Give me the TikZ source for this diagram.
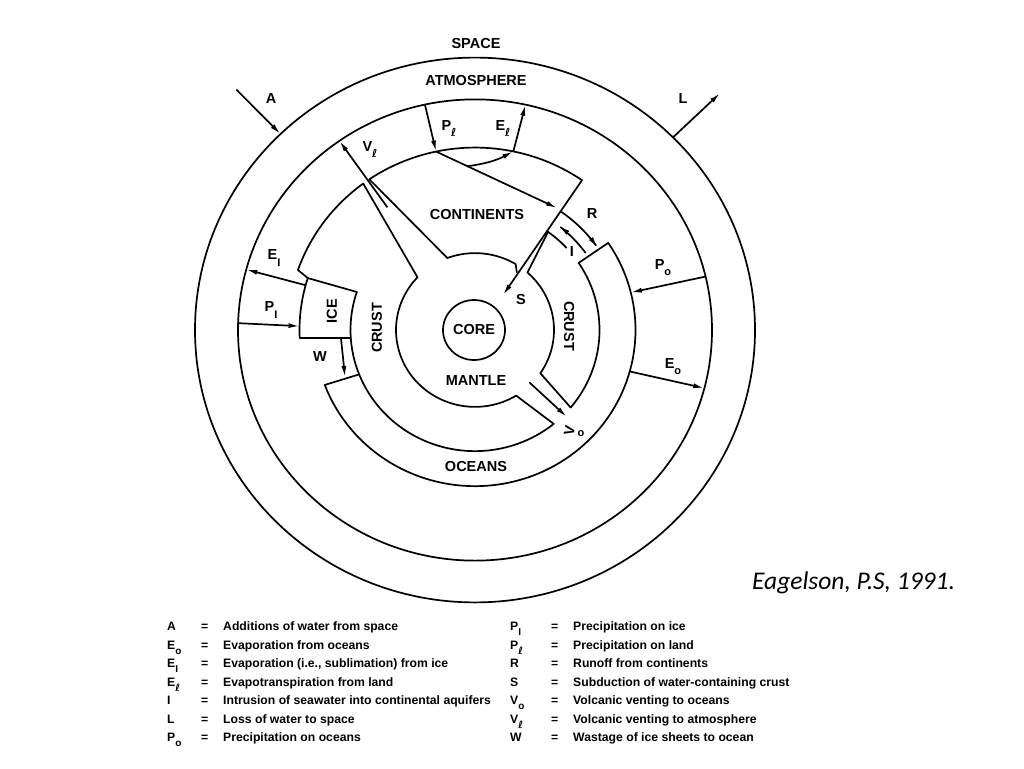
\documentclass[tikz,border=0pt]{standalone}
\usepackage{fontspec}
\setmainfont{Liberation Sans}
\newfontfamily\dvfont{DejaVu Sans}
\newfontfamily\calfont{Carlito}
\usetikzlibrary{arrows.meta,calc}
\newcommand\lsb[1]{\raisebox{-0.42em}{\fontsize{11}{11}\selectfont #1}}
\newcommand\gsb[1]{\raisebox{-0.42em}{\fontsize{10}{10}\selectfont #1}}
\newcommand\lel{{\dvfont\bfseries\itshape ℓ}}
\tikzset{
  lab/.style={font=\bfseries\fontsize{14.5}{17}\selectfont, inner sep=0pt},
  leg/.style={font=\bfseries\fontsize{12.2}{15}\selectfont, inner sep=0pt, anchor=mid west},
  ln/.style={line width=1.7pt, line join=round, line cap=round},
  flow/.style={ln, -{Latex[length=11pt,width=5pt]}},
  rflow/.style={ln, {Latex[length=11pt,width=5pt]}-},
}
\begin{document}
\begin{tikzpicture}[x=1pt,y=-1pt]
\useasboundingbox (0,0) rectangle (1024,768);
\fill[white] (0,0) rectangle (1024,768);
% full circles
\draw[ln] (475,330) ellipse[x radius=280pt, y radius=272.4pt];
\draw[ln] (475,330) ellipse[x radius=237pt, y radius=230.6pt];
\draw[ln] (474,330) ellipse[x radius=31pt, y radius=30pt];
\begin{scope}[shift={(475,330)}, yscale=-0.973]
  % continents
  \draw[ln] plot[domain=55.2:124.3, samples=50] (\x:187.5);
  \draw[ln] (124.3:187.5) -- (110.5:79);
  \draw[ln] (54.8:72.5) -- plot[domain=59:110.5, samples=30] (\x:79);
  % left block
  \draw[ln] (136.7:79) -- (126.6:187.5);
  \draw[ln] plot[domain=126.6:160.8, samples=30] (\x:187.5) -- (162.3:175.5) -- (161.7:124.5);
  % ice
  \draw[ln] plot[domain=162.3:182.7, samples=20] (\x:175.5) -- (183.8:124.5);
  % crust outer, left and bottom
  \draw[ln] plot[domain=161.7:309.2, samples=90] (\x:124.5);
  % mantle, lower part
  \draw[ln] plot[domain=136.7:301.4, samples=90] (\x:79) -- (309.2:124.5);
  % right crust block
  \draw[ln] (-39.8:124.5) -- plot[domain=-34.2:48.4, samples=50] (\x:79);
  \draw[ln] plot[domain=42.8:54.06, samples=10] (\x:124.5) -- (48.4:79);
  \draw[ln] plot[domain=-39.8:33.65, samples=50] (\x:124.5);
  % oceans
  \draw[ln] (201.5:124.5) -- plot[domain=200.6:393.9, samples=120] (\x:160.5) -- (393.65:124.5);
  % named points of the flows
  \coordinate (S0) at (55.2:187.5);   \coordinate (S1) at (52:45.6);
  \coordinate (Pl0) at (102.2:237);   \coordinate (Pl1) at (102:187.5);
  \coordinate (Ru1) at (56.8:149.8);
  \coordinate (El0) at (78.2:187.5);  \coordinate (El1) at (77.7:237);
  \coordinate (Vl0) at (124.8:154);   \coordinate (Vl1) at (124.9:237);
  \coordinate (Vo0) at (-44.7:77);    \coordinate (Vo1) at (-44.2:128);
  \coordinate (W0) at (183.5:134.3);  \coordinate (W1) at (200.4:138.7);
  \coordinate (EI0) at (164.8:176);   \coordinate (EI1) at (164.8:237);
  \coordinate (PI0) at (178.3:237);   \coordinate (PI1) at (178.7:175.5);
  \coordinate (Po0) at (13.4:237);    \coordinate (Po1) at (13.9:160.5);
  \coordinate (Eo0) at (-15.4:160.5); \coordinate (Eo1) at (-14.6:237);
  \coordinate (A0) at (134:343);      \coordinate (A1) at (134:280);
  \coordinate (L0) at (45:280);       \coordinate (L1) at (44.8:345.5);
  % curved flows R and I
  \draw[rflow] plot[domain=34.7:55, samples=20] (\x:149);
  \draw[flow] plot[domain=35.7:51.8, samples=20] (\x:136);
\end{scope}
\coordinate (Br0) at ($(Pl1)!0.26!(Ru1)$);
\draw[flow] (S0) -- (S1);
\draw[flow] (Pl0) -- (Pl1);
\draw[flow] (Pl1) -- (Ru1);
\draw[flow] (Br0) to[bend right=10] (El0);
\draw[flow] (El0) -- (El1);
\draw[flow] (Vl0) -- (Vl1);
\draw[flow] (Vo0) -- (Vo1);
\draw[flow] (W0) -- (W1);
\draw[flow] (EI0) -- (EI1);
\draw[flow] (PI0) -- (PI1);
\draw[flow] (Po0) -- (Po1);
\draw[flow] (Eo0) -- (Eo1);
\draw[flow] (A0) -- (A1);
\draw[flow] (L0) -- (L1);
% labels
\node[lab] (space) at (476,44) {SPACE};
\node[lab] (atm) at (476,81) {ATMOSPHERE};
\node[lab] (lA) at (271,99) {A};
\node[lab] (lL) at (683,99) {L};
\node[lab] (lPl) at (449,129) {P\lsb{\lel}};
\node[lab] (lEl) at (503,129) {E\lsb{\lel}};
\node[lab] (lVl) at (370,150) {V\lsb{\lel}};
\node[lab] (cont) at (477,215) {CONTINENTS};
\node[lab] (lR) at (592,214) {R};
\node[lab] (lI) at (572,252) {I};
\node[lab] (lEI) at (274,258) {E\lsb{I}};
\node[lab] (lPI) at (271,310) {P\lsb{I}};
\node[lab, rotate=90] (ice) at (332,311) {ICE};
\node[lab, rotate=90] (crustl) at (377,328) {CRUST};
\node[lab] (core) at (474,330) {CORE};
\node[lab] (lS) at (521,300) {S};
\node[lab, rotate=-90] (crustr) at (569,326) {CRUST};
\node[lab] (lPo) at (663,268) {P\lsb{o}};
\node[lab] (lEo) at (673,367) {E\lsb{o}};
\node[lab] (lW) at (320,357) {W};
\node[lab] (mantle) at (476,381) {MANTLE};
\node[lab] (lVo) at (574,431) {\rotatebox{78}{V}\,\raisebox{0.05em}{\fontsize{11}{11}\selectfont o}};
\node[lab] (oceans) at (476,467) {OCEANS};
\node[font=\calfont\itshape\fontsize{25.5}{28}\selectfont, inner sep=0pt, anchor=west] (cite) at (752,583) {Eagelson, P.S, 1991.};
% legend
\foreach \s/\t [count=\i from 0] in {
  A/Additions of water from space,
  E\gsb{o}/Evaporation from oceans,
  E\gsb{I}/{Evaporation (i.e., sublimation) from ice},
  E\gsb{\lel}/Evapotranspiration from land,
  I/Intrusion of seawater into continental aquifers,
  L/Loss of water to space,
  P\gsb{o}/Precipitation on oceans}{
  \node[leg] (ls\i) at (167,628+18.5*\i) {\s};
  \node[leg] (le\i) at (201,628+18.5*\i) {=};
  \node[leg] (lt\i) at (223,628+18.5*\i) {\t};
}
\foreach \s/\t [count=\i from 0] in {
  P\gsb{I}/Precipitation on ice,
  P\gsb{\lel}/Precipitation on land,
  R/Runoff from continents,
  S/Subduction of water-containing crust,
  V\gsb{o}/Volcanic venting to oceans,
  V\gsb{\lel}/Volcanic venting to atmosphere,
  W/Wastage of ice sheets to ocean}{
  \node[leg] (rs\i) at (510,628+18.5*\i) {\s};
  \node[leg] (re\i) at (551,628+18.5*\i) {=};
  \node[leg] (rt\i) at (573,628+18.5*\i) {\t};
}
\end{tikzpicture}
\end{document}
